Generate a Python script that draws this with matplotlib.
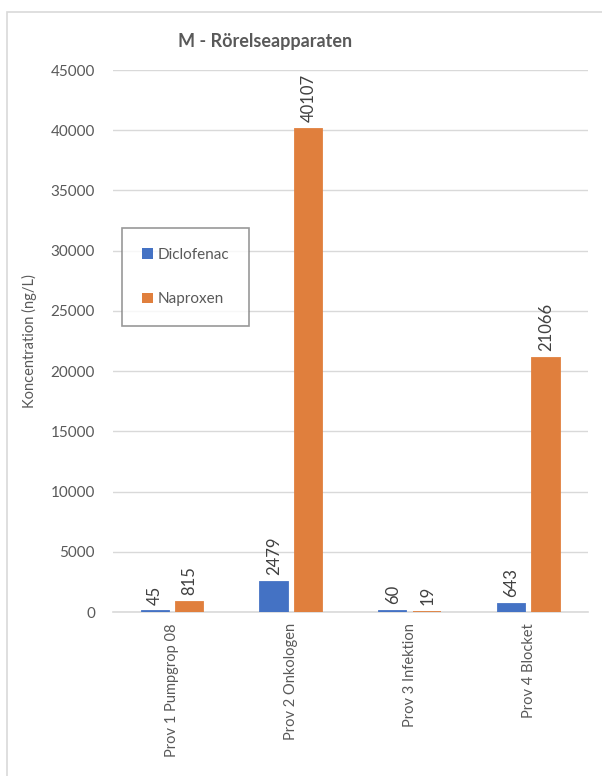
import numpy as np
import matplotlib
matplotlib.use('Agg')
import matplotlib.pyplot as plt
from matplotlib.patches import Rectangle

plt.rcParams['font.family'] = ['Lato', 'DejaVu Sans']

categories = ['Prov 1 Pumpgrop 08', 'Prov 2 Onkologen', 'Prov 3 Infektion', 'Prov 4 Blocket']
diclofenac = [45, 2479, 60, 643]
naproxen = [815, 40107, 19, 21066]

blue = '#4472C4'
orange = '#E07F3D'
txt = '#595959'

fig = plt.figure(figsize=(6.02, 7.76), dpi=100)
# outer chart frame (cut off at right/bottom like the screenshot)
fig.patches.append(Rectangle((7 / 602, -0.1), 1.2, 1 - 12 / 776 + 0.1, transform=fig.transFigure,
                             fill=False, edgecolor='#D9D9D9', linewidth=1.2))

ax = fig.add_axes([113 / 602, 1 - 612 / 776, 475 / 602, 542 / 776])
x = np.arange(len(categories))
w = 0.23
gap = 0.06
# thin edge in the same colour so the tiny values still show as a sliver, like Excel
b1 = ax.bar(x - (w + gap) / 2, diclofenac, w, color=blue, edgecolor=blue, linewidth=1.3,
            label='Diclofenac', zorder=3)
b2 = ax.bar(x + (w + gap) / 2, naproxen, w, color=orange, edgecolor=orange, linewidth=1.3,
            label='Naproxen', zorder=3)

for bars, vals in ((b1, diclofenac), (b2, naproxen)):
    for r, v in zip(bars, vals):
        ax.annotate(str(v), (r.get_x() + r.get_width() / 2, v), xytext=(0, 5),
                    textcoords='offset points', rotation=90, ha='center', va='bottom',
                    fontsize=12, color='#404040')

ax.set_xlim(-0.5, 3.5)
ax.set_ylim(0, 45000)
ax.set_yticks(np.arange(0, 45001, 5000))
ax.yaxis.grid(True, color='#D9D9D9', linewidth=1, zorder=0)
ax.set_xticks(x)
ax.set_xticklabels(categories, rotation=90, fontsize=10.5, color=txt)
ax.tick_params(axis='y', labelsize=11, labelcolor=txt, length=0, pad=13)
ax.tick_params(axis='x', length=0, pad=8)
for s in ('left', 'right', 'top'):
    ax.spines[s].set_visible(False)
ax.spines['bottom'].set_color('#D9D9D9')
ax.spines['bottom'].set_linewidth(1.2)
ax.spines['bottom'].set_zorder(2)

ax.set_ylabel('Koncentration (ng/L)', fontsize=10.5, color=txt, labelpad=10)
fig.text(265 / 602, 1 - 42 / 776, 'M - Rörelseapparaten', ha='center', va='center',
         fontsize=13, fontweight='bold', color=txt)

leg = ax.legend(loc='upper left', bbox_to_anchor=((122 - 113) / 475, 1 - (228 - 70) / 542),
                frameon=True, fancybox=False, fontsize=11, handlelength=0.7, handleheight=0.7,
                handletextpad=0.3, labelspacing=2.0, borderpad=1.3, borderaxespad=0,
                labelcolor=txt)
leg.get_frame().set_edgecolor('#7F7F7F')
leg.get_frame().set_linewidth(1.2)
for h in leg.legend_handles:
    h.set_linewidth(0)

fig.savefig('out.png', dpi=100)
